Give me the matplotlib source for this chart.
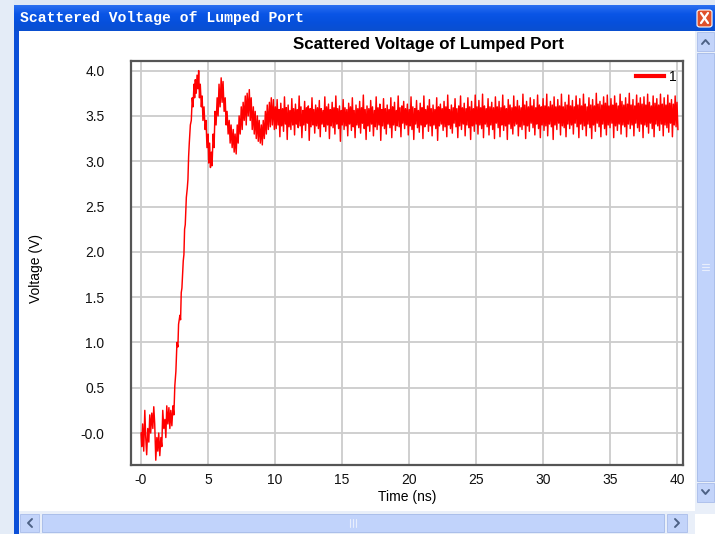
import numpy as np
import matplotlib
matplotlib.use("Agg")
import matplotlib.pyplot as plt
from matplotlib.patches import Rectangle, FancyBboxPatch
from matplotlib.lines import Line2D
from matplotlib.colors import LinearSegmentedColormap

# ---------------- data ----------------
chart_title = "Scattered Voltage of Lumped Port"
window_title = "Scattered Voltage of Lumped Port"
x_label = "Time (ns)"
y_label = "Voltage (V)"
legend_label = "1"

x_ticks = [0, 5, 10, 15, 20, 25, 30, 35, 40]
x_tick_labels = ["-0", "5", "10", "15", "20", "25", "30", "35", "40"]
y_ticks = [0.0, 0.5, 1.0, 1.5, 2.0, 2.5, 3.0, 3.5, 4.0]
y_tick_labels = ["-0.0", "0.5", "1.0", "1.5", "2.0", "2.5", "3.0", "3.5", "4.0"]

# early transient (time ns, voltage V)
early_time = [0.0, 0.05, 0.12, 0.2, 0.28, 0.35, 0.42, 0.5, 0.58, 0.65, 0.72, 0.8, 0.88, 0.95,
              1.02, 1.1, 1.18, 1.25, 1.32, 1.4, 1.48, 1.55, 1.62, 1.7, 1.78, 1.85, 1.92, 2.0,
              2.08, 2.15, 2.22, 2.3, 2.38, 2.45, 2.52, 2.6, 2.68, 2.75, 2.8, 2.9, 2.95, 3.0,
              3.05, 3.1, 3.15, 3.2, 3.25, 3.3, 3.38, 3.45, 3.5, 3.55, 3.6, 3.68, 3.75, 3.82,
              3.88, 3.95, 4.0, 4.05, 4.12, 4.18, 4.25, 4.3, 4.36, 4.42, 4.5, 4.56, 4.62, 4.7,
              4.78, 4.85, 4.92, 5.0, 5.05, 5.12, 5.18, 5.25, 5.3, 5.38, 5.45, 5.52, 5.6, 5.68,
              5.75, 5.82, 5.9, 5.98, 6.05, 6.12, 6.2, 6.28, 6.35, 6.42, 6.5, 6.58, 6.65, 6.72,
              6.8, 6.88, 6.95, 7.02, 7.1, 7.18, 7.25, 7.32, 7.4, 7.48, 7.55, 7.62, 7.7, 7.78,
              7.85, 7.92, 8.0, 8.08, 8.15, 8.22, 8.3, 8.38, 8.45, 8.52, 8.6, 8.68, 8.75, 8.82,
              8.9, 8.98, 9.05, 9.12, 9.2, 9.28, 9.35, 9.42, 9.5, 9.58, 9.65, 9.72, 9.8, 9.88,
              9.95]
early_voltage = [0.0, -0.15, 0.1, -0.2, 0.25, -0.05, -0.24, 0.05, -0.1, 0.2, 0.0, 0.22, 0.05, 0.29,
                 0.1, -0.3, -0.05, -0.2, 0.0, -0.25, -0.05, -0.15, 0.25, 0.05, 0.15, -0.05, 0.3, 0.1,
                 0.28, 0.05, 0.25, 0.08, 0.3, 0.2, 0.52, 0.68, 1.0, 0.95, 1.2, 1.3, 1.25, 1.55,
                 1.6, 1.75, 1.9, 1.97, 2.25, 2.3, 2.6, 2.7, 2.8, 3.05, 3.2, 3.4, 3.45, 3.7,
                 3.6, 3.85, 3.7, 3.9, 3.75, 3.95, 3.8, 4.0, 3.7, 3.85, 3.6, 3.72, 3.45, 3.6,
                 3.35, 3.45, 3.15, 3.3, 2.98, 3.2, 2.93, 3.1, 2.95, 3.3, 3.15, 3.55, 3.4, 3.7,
                 3.5, 3.85, 3.6, 3.92, 3.65, 3.88, 3.55, 3.7, 3.4, 3.55, 3.3, 3.45, 3.2, 3.4,
                 3.15, 3.35, 3.1, 3.3, 3.08, 3.4, 3.2, 3.5, 3.3, 3.6, 3.35, 3.65, 3.45, 3.72,
                 3.4, 3.75, 3.5, 3.79, 3.45, 3.7, 3.35, 3.6, 3.3, 3.55, 3.25, 3.5, 3.22, 3.45,
                 3.2, 3.4, 3.18, 3.45, 3.25, 3.55, 3.3, 3.62, 3.35, 3.65, 3.38, 3.7, 3.4, 3.68,
                 3.35]

# steady-state ringing, 10 ns to 40 ns, evenly sampled
steady_start = 10.02
steady_end = 40.07
steady_voltage = [
    3.60, 3.36, 3.68, 3.40, 3.57, 3.27, 3.64, 3.39, 3.58, 3.33, 3.71, 3.41, 3.59, 3.24, 3.62, 3.38, 3.56, 3.35, 3.69, 3.40,
    3.58, 3.29, 3.63, 3.41, 3.57, 3.37, 3.72, 3.39, 3.60, 3.26, 3.56, 3.40, 3.66, 3.34, 3.59, 3.42, 3.61, 3.23, 3.58, 3.38,
    3.70, 3.40, 3.57, 3.31, 3.62, 3.39, 3.59, 3.36, 3.67, 3.27, 3.58, 3.41, 3.56, 3.38, 3.71, 3.33, 3.60, 3.40, 3.63, 3.25,
    3.57, 3.39, 3.65, 3.37, 3.59, 3.30, 3.72, 3.41, 3.58, 3.36, 3.61, 3.22, 3.56, 3.40, 3.68, 3.35, 3.59, 3.39, 3.57, 3.28,
    3.64, 3.41, 3.60, 3.34, 3.70, 3.38, 3.56, 3.26, 3.62, 3.40, 3.58, 3.37, 3.66, 3.31, 3.59, 3.42, 3.73, 3.36, 3.57, 3.24,
    3.61, 3.39, 3.58, 3.33, 3.67, 3.41, 3.60, 3.28, 3.56, 3.38, 3.71, 3.35, 3.59, 3.40, 3.63, 3.23, 3.57, 3.39, 3.69, 3.36,
    3.58, 3.30, 3.62, 3.41, 3.57, 3.37, 3.70, 3.26, 3.60, 3.40, 3.65, 3.34, 3.56, 3.39, 3.72, 3.38, 3.59, 3.27, 3.61, 3.42,
    3.66, 3.36, 3.58, 3.40, 3.63, 3.29, 3.57, 3.39, 3.71, 3.35, 3.60, 3.24, 3.58, 3.41, 3.67, 3.37, 3.56, 3.32, 3.64, 3.40,
    3.59, 3.25, 3.72, 3.38, 3.57, 3.41, 3.61, 3.33, 3.68, 3.39, 3.58, 3.28, 3.62, 3.40, 3.57, 3.36, 3.70, 3.23, 3.60, 3.39,
    3.63, 3.41, 3.58, 3.34, 3.66, 3.38, 3.60, 3.27, 3.73, 3.40, 3.57, 3.36, 3.62, 3.31, 3.59, 3.42, 3.69, 3.38, 3.58, 3.26,
    3.61, 3.39, 3.72, 3.35, 3.59, 3.41, 3.64, 3.28, 3.58, 3.40, 3.70, 3.37, 3.60, 3.24, 3.66, 3.39, 3.58, 3.33, 3.73, 3.41,
    3.60, 3.30, 3.67, 3.40, 3.59, 3.36, 3.74, 3.26, 3.61, 3.41, 3.58, 3.38, 3.69, 3.29, 3.60, 3.40, 3.65, 3.35, 3.59, 3.25,
    3.71, 3.42, 3.60, 3.37, 3.66, 3.27, 3.59, 3.40, 3.73, 3.34, 3.61, 3.39, 3.58, 3.24, 3.68, 3.41, 3.62, 3.36, 3.59, 3.30,
    3.72, 3.39, 3.60, 3.41, 3.67, 3.28, 3.61, 3.38, 3.59, 3.35, 3.74, 3.40, 3.62, 3.25, 3.66, 3.39, 3.60, 3.33, 3.70, 3.42,
    3.61, 3.37, 3.68, 3.29, 3.59, 3.41, 3.73, 3.36, 3.62, 3.26, 3.60, 3.40, 3.69, 3.34, 3.61, 3.39, 3.74, 3.28, 3.60, 3.41,
    3.66, 3.38, 3.62, 3.24, 3.71, 3.40, 3.60, 3.35, 3.68, 3.42, 3.61, 3.29, 3.74, 3.39, 3.60, 3.37, 3.65, 3.27, 3.62, 3.41,
    3.73, 3.36, 3.61, 3.40, 3.67, 3.30, 3.60, 3.42, 3.72, 3.38, 3.62, 3.26, 3.69, 3.41, 3.61, 3.35, 3.74, 3.39, 3.63, 3.28,
    3.60, 3.41, 3.70, 3.37, 3.62, 3.25, 3.68, 3.40, 3.61, 3.33, 3.75, 3.42, 3.63, 3.38, 3.66, 3.27, 3.62, 3.41, 3.71, 3.36,
    3.64, 3.29, 3.73, 3.40, 3.61, 3.37, 3.69, 3.42, 3.62, 3.26, 3.72, 3.39, 3.64, 3.34, 3.61, 3.41, 3.74, 3.30, 3.66, 3.40,
    3.62, 3.38, 3.70, 3.27, 3.63, 3.41, 3.75, 3.36, 3.62, 3.40, 3.68, 3.28, 3.61, 3.42, 3.73, 3.37, 3.64, 3.33, 3.70, 3.41,
    3.63, 3.26, 3.71, 3.40, 3.62, 3.38, 3.74, 3.31, 3.65, 3.42, 3.61, 3.36, 3.72, 3.27, 3.64, 3.41, 3.69, 3.39, 3.62, 3.34,
    3.74, 3.41, 3.63, 3.28, 3.70, 3.40, 3.62, 3.37, 3.73, 3.32, 3.64, 3.42, 3.68, 3.27, 3.63, 3.40, 3.72, 3.38, 3.65, 3.35,
]

# ---------------- assemble series ----------------
steady_time = np.linspace(steady_start, steady_end, len(steady_voltage))
time = np.concatenate([early_time, steady_time])
voltage = np.concatenate([early_voltage, steady_voltage])

# ---------------- figure ----------------
W, H = 715, 534
fig = plt.figure(figsize=(W / 100, H / 100), dpi=100)
fig.patch.set_facecolor("white")


def fr(x, y, w, h):
    return (x / W, 1 - (y + h) / H, w / W, h / H)


def rect(x, y, w, h, fc, ec="none", lw=0, z=0):
    r = Rectangle((x / W, 1 - (y + h) / H), w / W, h / H, transform=fig.transFigure,
                  facecolor=fc, edgecolor=ec, linewidth=lw, zorder=z)
    fig.add_artist(r)
    return r


def pline(xs, ys, color, lw=1.5, z=5):
    fig.add_artist(Line2D([x / W for x in xs], [1 - y / H for y in ys], transform=fig.transFigure,
                          color=color, linewidth=lw, zorder=z, solid_capstyle="round"))


# desktop background strips
rect(0, 0, W, H, "#dfe8f5", z=0)
rect(0, 0, 14, H, "#e4ecf7", z=0)
# window border (blue)
rect(14, 5, W - 14, H - 5, "#0b4fd8", z=1)
# title bar gradient
tb = fig.add_axes(fr(14, 5, W - 14, 26), zorder=2)
grad = np.linspace(0, 1, 26).reshape(-1, 1)
cmap = LinearSegmentedColormap.from_list("tb", ["#2a6ff0", "#0a55e6", "#0650dc", "#0a4fd0"])
tb.imshow(grad, aspect="auto", cmap=cmap, extent=(0, 1, 0, 1))
tb.set_axis_off()
fig.text(20 / W, 1 - 18 / H, window_title, color="white", fontsize=10.6, fontweight="bold",
         family=["Liberation Mono", "DejaVu Sans Mono"], va="center", ha="left", zorder=5)
# close button
fig.add_artist(FancyBboxPatch((697 / W, 1 - 27 / H), 15 / W, 17 / H, boxstyle="round,pad=0.0,rounding_size=0.004",
                              transform=fig.transFigure, facecolor="#e0502a", edgecolor="white", linewidth=0.8, zorder=6))
pline([701, 708], [13, 23], "white", lw=1.6, z=7)
pline([708, 701], [13, 23], "white", lw=1.6, z=7)

# client area white
rect(19, 31, W - 19, 503, "white", z=3)

# vertical scrollbar
rect(695, 31, 20, 483, "#e9eff9", z=4)
rect(697, 32, 17, 19, "#c3d4fa", ec="#a9bdea", lw=0.6, z=5)
rect(697, 53, 17, 428, "#c1d3fb", ec="#a3b9e8", lw=0.6, z=5)
rect(697, 483, 17, 19, "#c3d4fa", ec="#a9bdea", lw=0.6, z=5)
pline([702, 705.5, 709], [44, 40, 44], "#4d6185", lw=1.4, z=6)
pline([702, 705.5, 709], [490, 494, 490], "#4d6185", lw=1.4, z=6)
for yy in (264, 267, 270):
    pline([702, 709], [yy, yy], "#e8eefc", lw=0.8, z=6)

# horizontal scrollbar
rect(19, 511, 676, 23, "#e9eff9", z=4)
rect(20, 514, 19, 18, "#c3d4fa", ec="#a9bdea", lw=0.6, z=5)
rect(42, 514, 622, 18, "#c1d3fb", ec="#a3b9e8", lw=0.6, z=5)
rect(667, 514, 20, 18, "#c3d4fa", ec="#a9bdea", lw=0.6, z=5)
pline([32, 28, 32], [519, 523, 527], "#4d6185", lw=1.4, z=6)
pline([675, 679, 675], [519, 523, 527], "#4d6185", lw=1.4, z=6)
for xx in (350, 353, 356):
    pline([xx, xx], [519, 527], "#e8eefc", lw=0.8, z=6)

# ---------------- plot axes ----------------
FONT = ["Liberation Sans", "DejaVu Sans"]
ax = fig.add_axes(fr(131, 61, 552, 404), zorder=10)
ax.set_facecolor("white")
ax.plot(time, voltage, color="#ff0000", linewidth=1.05, label=legend_label, zorder=3)
ax.set_xlim(-0.75, 40.45)
ax.set_ylim(-0.353, 4.106)
ax.set_xticks(x_ticks)
ax.set_xticklabels(x_tick_labels)
ax.set_yticks(y_ticks)
ax.set_yticklabels(y_tick_labels)
ax.grid(True, color="#cccccc", linewidth=1.3, zorder=0)
ax.set_axisbelow(True)
ax.tick_params(axis="x", length=0, pad=6, labelsize=10, colors="#111111")
ax.tick_params(axis="y", length=0, pad=19, labelsize=10, colors="#111111")
for lab in ax.get_xticklabels() + ax.get_yticklabels():
    lab.set_family(FONT)
for s in ax.spines.values():
    s.set_color("#555555")
    s.set_linewidth(1.6)
fig.text(428 / W, 1 - 45 / H, chart_title, fontsize=12.2, fontweight="bold", family=FONT,
         ha="center", va="center", zorder=12)
ax.set_xlabel(x_label, fontsize=10, family=FONT, labelpad=2)
ax.set_ylabel(y_label, fontsize=10, family=FONT)
ax.yaxis.set_label_coords((43 - 131) / 552, (465 - 268) / 404)
leg = ax.legend(loc="upper right", bbox_to_anchor=((677 - 131) / 552, (465 - 70) / 404),
                frameon=False, fontsize=10, handlelength=2.0, handletextpad=0.4,
                borderaxespad=0.0, borderpad=0.0, prop={"family": FONT, "size": 10})
for h in leg.get_lines():
    h.set_linewidth(3)

fig.savefig("out.png", dpi=100)
